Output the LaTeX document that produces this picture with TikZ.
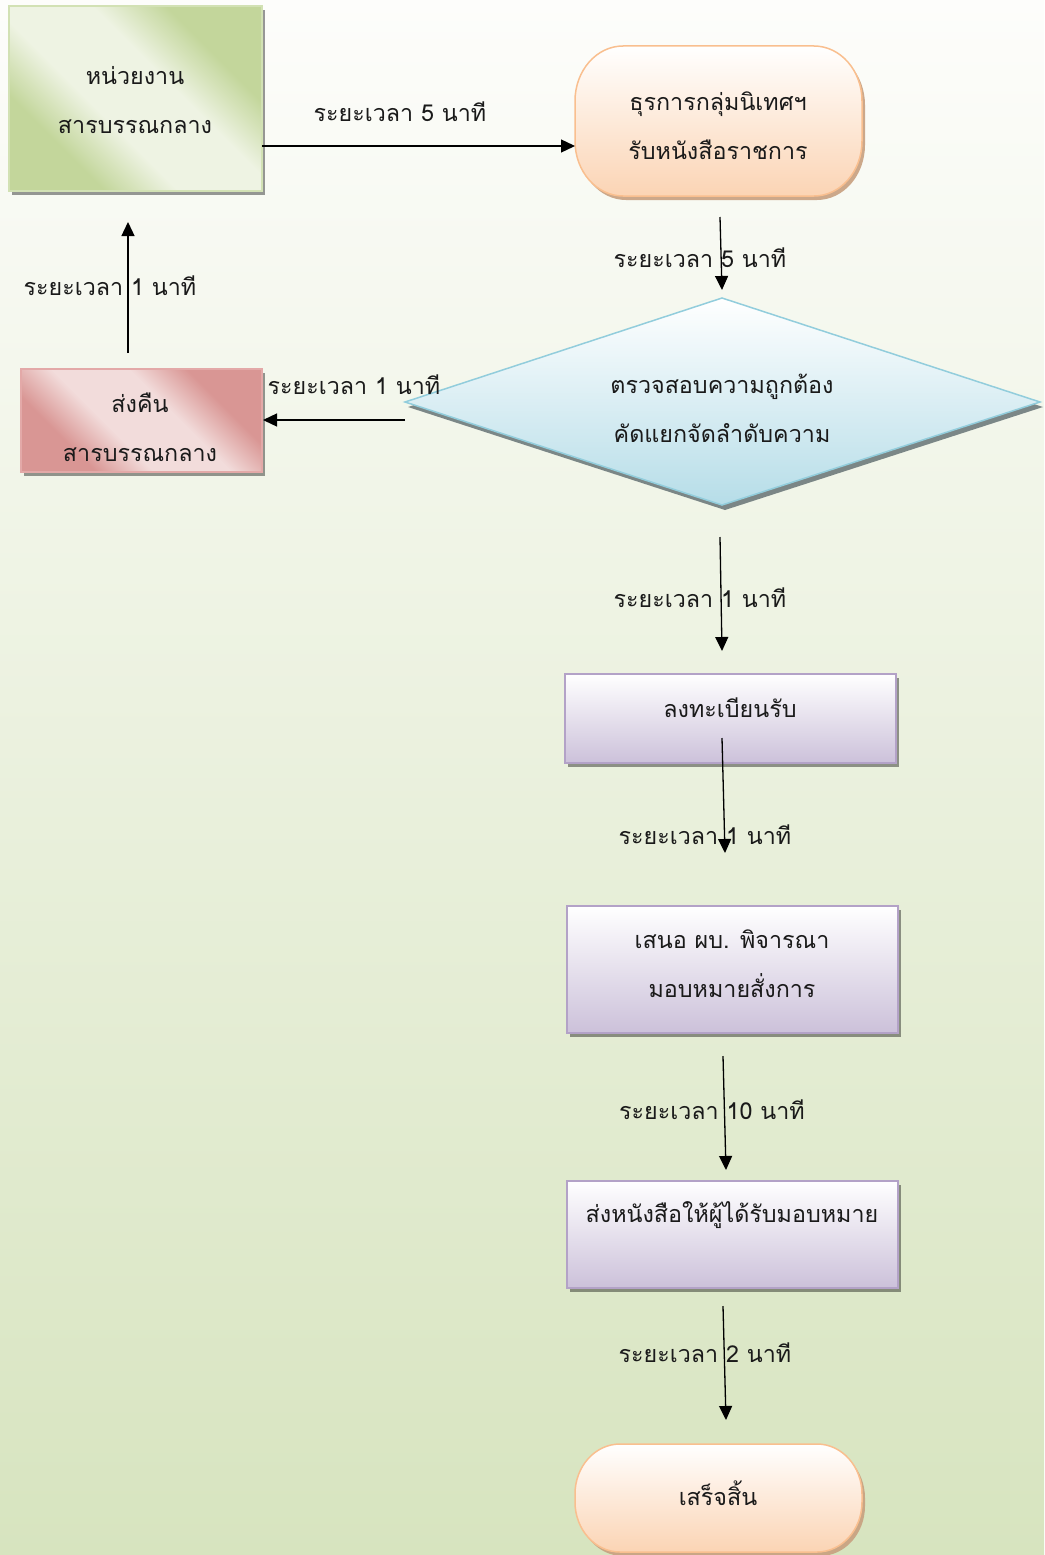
\documentclass[tikz,border=0pt]{standalone}
\usepackage{fontspec}
\newfontfamily\thai[Script=Thai]{Loma}
\usetikzlibrary{arrows.meta,shadows}
\definecolor{bgTop}{HTML}{FDFDFB}
\definecolor{bgBot}{HTML}{D7E4BF}
\definecolor{gDark}{HTML}{C3D69B}
\definecolor{gLight}{HTML}{EEF3E3}
\definecolor{gBorder}{HTML}{D2E1B4}
\definecolor{rDark}{HTML}{D99694}
\definecolor{rLight}{HTML}{F2DCDB}
\definecolor{rBorder}{HTML}{E3A9A8}
\definecolor{oBot}{HTML}{FBD4B4}
\definecolor{oBorder}{HTML}{F9BF8F}
\definecolor{oShadow}{HTML}{C8A07F}
\definecolor{bBot}{HTML}{B6DDE8}
\definecolor{bBorder}{HTML}{92CDDC}
\definecolor{pBot}{HTML}{CCC1DA}
\definecolor{pBorder}{HTML}{B3A2C7}
\definecolor{txtc}{HTML}{1A1A1A}
\pgfdeclarehorizontalshading{gband}{100bp}{color(0bp)=(gDark); color(30bp)=(gDark); color(42bp)=(gLight); color(58bp)=(gLight); color(70bp)=(gDark); color(100bp)=(gDark)}
\pgfdeclarehorizontalshading{rband}{100bp}{color(0bp)=(rDark); color(30bp)=(rDark); color(42bp)=(rLight); color(58bp)=(rLight); color(70bp)=(rDark); color(100bp)=(rDark)}
% stadium path with elliptical corners: x0,y0,x1,y1,rx,ry
\newcommand\stadpath[6]{%
  ({#1+#5},#2) -- ({#3-#5},#2)
  .. controls ({#3-0.4477*#5},#2) and (#3,{#2+0.4477*#6}) .. (#3,{#2+#6})
  -- (#3,{#4-#6})
  .. controls (#3,{#4-0.4477*#6}) and ({#3-0.4477*#5},#4) .. ({#3-#5},#4)
  -- ({#1+#5},#4)
  .. controls ({#1+0.4477*#5},#4) and (#1,{#4-0.4477*#6}) .. (#1,{#4-#6})
  -- (#1,{#2+#6})
  .. controls (#1,{#2+0.4477*#6}) and ({#1+0.4477*#5},#2) .. cycle}
\tikzset{
  x=1pt, y=-1pt,
  every node/.style={inner sep=0pt, outer sep=0pt},
  shad/.style={drop shadow={shadow xshift=3pt, shadow yshift=-4pt, fill=black, opacity=0.4}},
  greenbox/.style={rectangle, draw=gBorder, line width=1.5pt, shading=gband, shading angle=45, shad},
  redbox/.style={rectangle, draw=rBorder, line width=1.5pt, shading=rband, shading angle=45, shad},
  orangebox/.style={draw=oBorder, line width=1.5pt, top color=white, bottom color=oBot,
     drop shadow={shadow xshift=3pt, shadow yshift=-4pt, fill=oShadow, opacity=0.9}},
  purplebox/.style={rectangle, draw=pBorder, line width=1.5pt, top color=white, bottom color=pBot, shad},
  diam/.style={draw=bBorder, line width=1.5pt, top color=white, bottom color=bBot,
     drop shadow={shadow xshift=3pt, shadow yshift=-5pt, fill=black!60!bBot, opacity=0.7}},
  txt/.style={align=center, text=txtc, font=\thai\fontsize{23.3}{49}\selectfont},
  lbl/.style={text=txtc, font=\thai\fontsize{23.3}{26}\selectfont},
  conn/.style={-{Triangle[length=14pt,width=13pt]}, line width=1.3pt, black},
}
\begin{document}
\begin{tikzpicture}
\useasboundingbox (0,0) rectangle (1044,1555);
\shade[top color=bgTop, bottom color=bgBot] (0,0) rectangle (1044,1555);

% shapes
\node[greenbox, minimum width=253, minimum height=185] (unit) at (135.5,98.5) {};
\path[orangebox] \stadpath{575}{46}{862}{196}{48}{55};
\coordinate (dT) at (722,298);
\coordinate (dR) at (1040,402);
\coordinate (dB) at (722,505);
\coordinate (dL) at (405,402);
\path[diam] (dT) -- (dR) -- (dB) -- (dL) -- cycle;
\node[redbox, minimum width=241, minimum height=103] (ret) at (141.5,420.5) {};
\node[purplebox, minimum width=331, minimum height=89] (reg) at (730.5,718.5) {};
\node[purplebox, minimum width=331, minimum height=127] (prop) at (732.5,969.5) {};
\node[purplebox, minimum width=331, minimum height=107] (send) at (732.5,1234.5) {};
\path[orangebox] \stadpath{575}{1444}{862}{1552}{45}{50};

% texts
\node[txt] (unitT) at (135,100) {หน่วยงาน\\สารบรรณกลาง};
\node[txt] (recvT) at (718,126) {ธุรการกลุ่มนิเทศฯ\\รับหนังสือราชการ};
\node[txt] (chkT) at (722,408) {ตรวจสอบความถูกต้อง\\คัดแยกจัดลำดับความ};
\node[txt] (retT) at (140,427) {ส่งคืน\\สารบรรณกลาง};
\node[txt] (regT) at (730,708) {ลงทะเบียนรับ};
\node[txt] (propT) at (732,964) {เสนอ ผบ. พิจารณา\\มอบหมายสั่งการ};
\node[txt] (sendT) at (732,1215) {ส่งหนังสือให้ผู้ได้รับมอบหมาย};
\node[txt] (doneT) at (718,1493) {เสร็จสิ้น};

% connector end points
\coordinate (c1a) at (262,146);  \coordinate (c1b) at (575,146);
\coordinate (c2a) at (720,217);  \coordinate (c2b) at (722,290);
\coordinate (c3a) at (405,420);  \coordinate (c3b) at (263,420);
\coordinate (c4a) at (128,353);  \coordinate (c4b) at (128,222);
\coordinate (c5a) at (720,537);  \coordinate (c5b) at (722,651);
\coordinate (c6a) at (722,738);  \coordinate (c6b) at (725,853);
\coordinate (c7a) at (723,1056); \coordinate (c7b) at (726,1170);
\coordinate (c8a) at (723,1306); \coordinate (c8b) at (726,1420);

\draw[conn] (c1a) -- (c1b);
\draw[conn] (c2a) -- (c2b);
\draw[conn] (c3a) -- (c3b);
\draw[conn] (c4a) -- (c4b);
\draw[conn] (c5a) -- (c5b);
\draw[conn] (c6a) -- (c6b);
\draw[conn] (c7a) -- (c7b);
\draw[conn] (c8a) -- (c8b);

% labels
\node[lbl] (l1) at (400,112) {ระยะเวลา 5 นาที};
\node[lbl] (l2) at (700,258) {ระยะเวลา 5 นาที};
\node[lbl] (l3) at (354,385) {ระยะเวลา 1 นาที};
\node[lbl] (l4) at (110,286) {ระยะเวลา 1 นาที};
\node[lbl] (l5) at (700,598) {ระยะเวลา 1 นาที};
\node[lbl] (l6) at (705,835) {ระยะเวลา 1 นาที};
\node[lbl] (l7) at (712,1110) {ระยะเวลา 10 นาที};
\node[lbl] (l8) at (705,1353) {ระยะเวลา 2 นาที};
\end{tikzpicture}
\end{document}
